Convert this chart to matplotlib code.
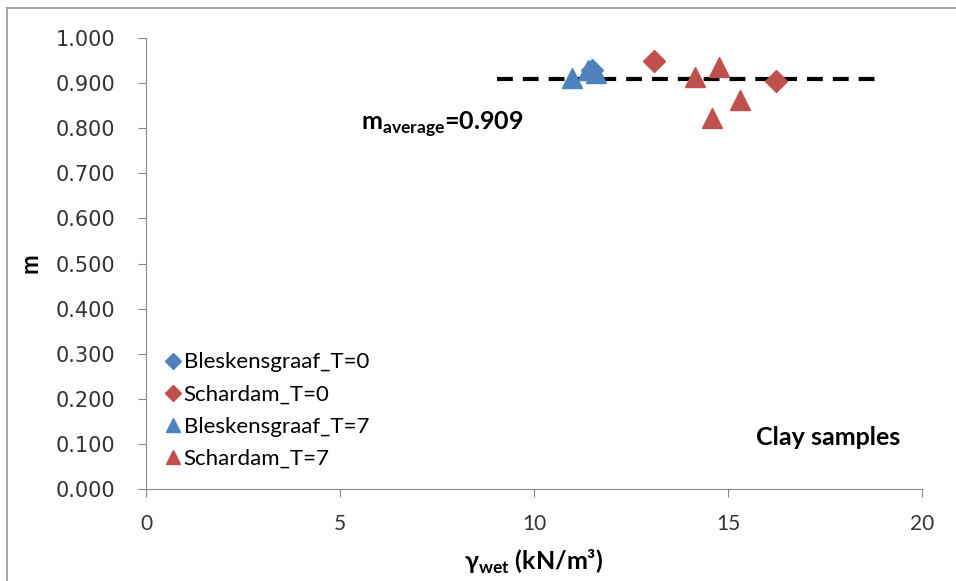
import matplotlib.pyplot as plt
from matplotlib.lines import Line2D

# data
bles_t0_x = [11.5]
bles_t0_y = [0.930]
schar_t0_x = [13.1, 16.25]
schar_t0_y = [0.950, 0.905]
bles_t7_x = [10.97, 11.4, 11.6]
bles_t7_y = [0.912, 0.930, 0.922]
schar_t7_x = [14.15, 14.78, 15.3, 14.58]
schar_t7_y = [0.914, 0.936, 0.862, 0.822]
avg_x = [9.05, 18.9]
m_average = 0.909

blue = '#4F81BD'
red = '#C0504D'

fig = plt.figure(figsize=(9.56, 5.81), dpi=100)
ax = fig.add_axes([0.1527, 0.1583, 0.8117, 0.7763])

ax.plot(avg_x, [m_average, m_average], color='black', lw=3, ls=(0, (3.8, 2.4)), zorder=1)
ax.plot(bles_t0_x, bles_t0_y, 'D', color=blue, ms=11, ls='none', label='Bleskensgraaf_T=0', zorder=2)
ax.plot(schar_t0_x, schar_t0_y, 'D', color=red, ms=11, ls='none', label='Schardam_T=0', zorder=2)
ax.plot(bles_t7_x, bles_t7_y, '^', color=blue, ms=14, ls='none', label='Bleskensgraaf_T=7', zorder=3)
ax.plot(schar_t7_x, schar_t7_y, '^', color=red, ms=14, ls='none', label='Schardam_T=7', zorder=3)

ax.set_xlim(0, 20)
ax.set_ylim(0, 1)
ax.set_xticks([0, 5, 10, 15, 20])
ax.set_yticks([i / 10 for i in range(11)])
ax.set_yticklabels(['%.3f' % (i / 10) for i in range(11)])
for s in ['top', 'right']:
    ax.spines[s].set_visible(False)
for s in ['left', 'bottom']:
    ax.spines[s].set_color('#888888')
ax.tick_params(axis='both', colors='#888888', length=6, labelcolor='#333333')
ax.tick_params(axis='x', pad=12, labelsize=15)
ax.tick_params(axis='y', pad=16, labelsize=15)
for lab in ax.get_yticklabels():
    lab.set_family('DejaVu Sans')
for lab in ax.get_xticklabels():
    lab.set_family('Lato')

ax.set_ylabel('m', fontsize=17, fontweight='bold', family='Lato', labelpad=10)
ax.set_xlabel(r'γ$_{\mathregular{wet}}$ (kN/m³)', fontsize=18, fontweight='bold',
              family=['Lato', 'DejaVu Sans'], labelpad=10)

ax.text(5.55, 0.809, r'm$_{\mathregular{average}}$=0.909', fontsize=18, fontweight='bold',
        family='Lato', va='center', ha='left')
ax.text(19.45, 0.115, 'Clay samples', fontsize=18, fontweight='bold', family='Lato',
        va='center', ha='right')

leg = ax.legend(loc='lower left', bbox_to_anchor=(0.0, 0.0), frameon=False,
                prop={'family': 'Lato', 'size': 16}, markerscale=0.7, handlelength=0.6,
                handletextpad=0.2, labelspacing=0.55, borderaxespad=0.5)

# outer chart frame (left and top edges visible)
fig.add_artist(Line2D([0.0075, 0.0075], [0.0, 0.986], color='#999999', lw=1.2))
fig.add_artist(Line2D([0.0075, 1.0], [0.986, 0.986], color='#999999', lw=1.2))

fig.savefig('out.png', dpi=100)
